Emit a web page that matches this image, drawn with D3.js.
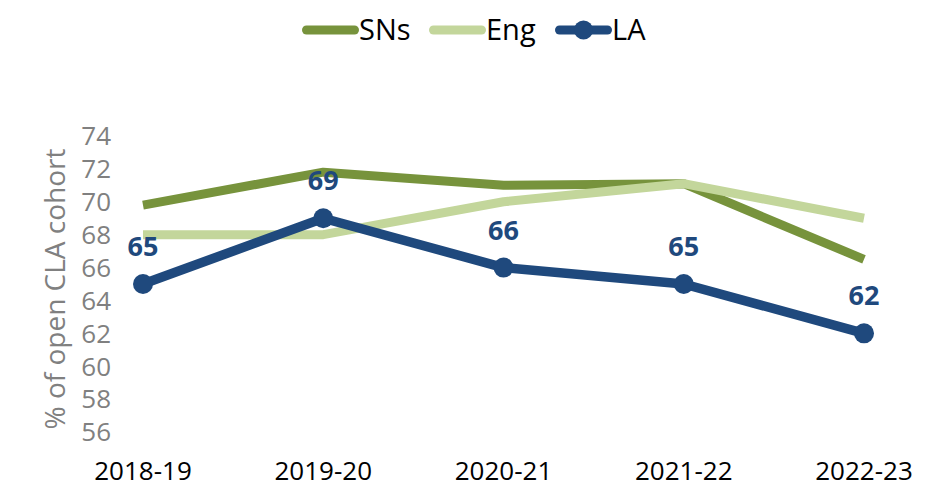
<!DOCTYPE html>
<html>
<head>
    <meta charset="utf-8">
    <script src="https://d3js.org/d3.v7.min.js"></script>
    <style>
        body {
            margin: 0;
            background: #fff;
            font-family: "Open Sans", "Noto Sans", sans-serif;
        }

        .tick-y {
            fill: #808080;
            font-size: 26px;
        }

        .tick-x {
            fill: #000;
            font-size: 26px;
        }

        .axis-title {
            fill: #808080;
            font-size: 28px;
        }

        .legend-text {
            fill: #000;
            font-size: 29px;
        }

        .data-label {
            fill: #1f497d;
            font-size: 27px;
            font-weight: bold;
        }
    </style>
</head>
<body>
    <div id="chart"></div>

    <script>
        const years = ["2018-19", "2019-20", "2020-21", "2021-22", "2022-23"];
        const snValues = [69.8, 71.8, 71.0, 71.1, 66.5];
        const engValues = [68, 68, 70, 71.1, 69];
        const laValues = [65, 69, 66, 65, 62];
        const yTicks = [56, 58, 60, 62, 64, 66, 68, 70, 72, 74];

        const width = 952;
        const height = 489;

        const svg = d3.select("#chart").append("svg")
            .attr("width", width)
            .attr("height", height);

        const x = d3.scalePoint()
            .domain(years)
            .range([143, 864]);

        const y = d3.scaleLinear()
            .domain([56, 74])
            .range([432, 136]);

        const series = [
            {name: "SNs", values: snValues, color: "#77933c", width: 9, marker: false},
            {name: "Eng", values: engValues, color: "#c3d69b", width: 9, marker: false},
            {name: "LA", values: laValues, color: "#1f497d", width: 9.5, marker: true}
        ];

        // y tick labels
        svg.append("g")
            .selectAll("text")
            .data(yTicks)
            .enter()
            .append("text")
            .attr("class", "tick-y")
            .attr("x", 111)
            .attr("y", d => y(d))
            .attr("dy", "0.36em")
            .attr("text-anchor", "end")
            .text(d => d);

        // x tick labels
        svg.append("g")
            .selectAll("text")
            .data(years)
            .enter()
            .append("text")
            .attr("class", "tick-x")
            .attr("x", d => x(d))
            .attr("y", 480)
            .attr("text-anchor", "middle")
            .text(d => d);

        // axis title
        svg.append("text")
            .attr("class", "axis-title")
            .attr("transform", "rotate(-90)")
            .attr("x", -289)
            .attr("y", 65)
            .attr("text-anchor", "middle")
            .text("% of open CLA cohort");

        const line = d3.line()
            .x((d, i) => x(years[i]))
            .y(d => y(d));

        series.forEach(s => {
            svg.append("path")
                .datum(s.values)
                .attr("fill", "none")
                .attr("stroke", s.color)
                .attr("stroke-width", s.width)
                .attr("stroke-linejoin", "round")
                .attr("d", line);
        });

        // LA markers and labels
        const la = series[2];
        svg.append("g")
            .selectAll("circle")
            .data(la.values)
            .enter()
            .append("circle")
            .attr("cx", (d, i) => x(years[i]))
            .attr("cy", d => y(d))
            .attr("r", 10)
            .attr("fill", la.color);

        svg.append("g")
            .selectAll("text")
            .data(la.values)
            .enter()
            .append("text")
            .attr("class", "data-label")
            .attr("x", (d, i) => x(years[i]))
            .attr("y", d => y(d) - 28)
            .attr("text-anchor", "middle")
            .text(d => d);

        // legend
        const legendX = [302, 429, 555];
        const legend = svg.append("g");
        series.forEach((s, i) => {
            const lx = legendX[i];
            legend.append("line")
                .attr("x1", lx + 4.5)
                .attr("x2", lx + 52.5)
                .attr("y1", 30)
                .attr("y2", 30)
                .attr("stroke", s.color)
                .attr("stroke-width", 9)
                .attr("stroke-linecap", "round");
            if (s.marker) {
                legend.append("circle")
                    .attr("cx", lx + 28.5)
                    .attr("cy", 30)
                    .attr("r", 9.5)
                    .attr("fill", s.color);
            }
            legend.append("text")
                .attr("class", "legend-text")
                .attr("x", lx + 57)
                .attr("y", 30)
                .attr("dy", "0.36em")
                .text(s.name);
        });
    </script>
</body>
</html>
